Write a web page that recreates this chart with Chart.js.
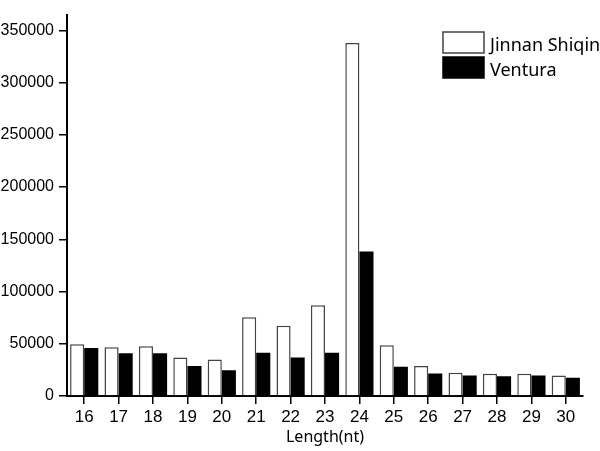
<!DOCTYPE html>
<html>
<head>
<meta charset="utf-8">
<script src="https://cdn.jsdelivr.net/npm/chart.js@4/dist/chart.umd.min.js"></script>
<style>
  html, body { margin: 0; padding: 0; background: #fff; }
  #wrap { width: 600px; height: 451px; }
</style>
</head>
<body>
<div id="wrap"><canvas id="myChart" width="600" height="451"></canvas></div>
<script>
// lengths of the small RNAs (nt)
var lengths = ['16', '17', '18', '19', '20', '21', '22', '23', '24', '25', '26', '27', '28', '29', '30'];
var jinnanShiqin = [49500, 46600, 47500, 36800, 34900, 75400, 67200, 86800, 337900, 48500, 28800, 22200, 21200, 21200, 19700];
var ventura = [46000, 40900, 41000, 28800, 24700, 41500, 36800, 41500, 138200, 27900, 21600, 19700, 19000, 19700, 17400];
var yTicks = [0, 50000, 100000, 150000, 200000, 250000, 300000, 350000];

// legend drawn in the top right corner, like the original figure
const boxLegend = {
  id: 'boxLegend',
  afterDraw(chart) {
    const ctx = chart.ctx;
    const items = chart.data.datasets;
    ctx.save();
    items.forEach((ds, i) => {
      const y = 32 + i * 25;
      ctx.fillStyle = ds.backgroundColor;
      ctx.fillRect(443, y, 41, 21);
      ctx.lineWidth = 1.5;
      ctx.strokeStyle = ds.borderColor;
      ctx.strokeRect(443, y, 41, 21);
      ctx.fillStyle = '#000';
      ctx.font = '18px "Noto Sans"';
      ctx.textBaseline = 'alphabetic';
      ctx.textAlign = 'left';
      ctx.fillText(ds.label, 490, y + 19);
    });
    ctx.restore();
  }
};

const data = {
  labels: lengths,
  datasets: [
    {
      label: 'Jinnan Shiqin',
      data: jinnanShiqin,
      backgroundColor: '#ffffff',
      borderColor: '#444444',
      borderWidth: 1.5
    },
    {
      label: 'Ventura',
      data: ventura,
      backgroundColor: '#000000',
      borderColor: '#000000',
      borderWidth: 0
    }
  ]
};

const config = {
  type: 'bar',
  data: data,
  options: {
    responsive: false,
    animation: false,
    layout: { padding: { top: 12, right: 17, left: 0, bottom: 4 } },
    datasets: {
      bar: { categoryPercentage: 0.82, barPercentage: 1.0 }
    },
    scales: {
      x: {
        type: 'category',
        offset: true,
        afterFit: function(scale) { scale.height = 51; },
        grid: { display: true, drawOnChartArea: false, drawTicks: true, tickLength: 8, color: '#000', lineWidth: 1.5, offset: false },
        border: { display: true, color: '#000', width: 2 },
        ticks: { color: '#000', font: { family: '"Liberation Sans", Arial', size: 17 }, padding: 3, maxRotation: 0 },
        title: { display: true, text: 'Length(nt)', color: '#000', font: { family: '"Noto Sans"', size: 16 }, padding: 0 }
      },
      y: {
        min: 0,
        max: 365000,
        afterFit: function(scale) { scale.width = 67; },
        afterBuildTicks: function(scale) { scale.ticks = yTicks.map(v => ({ value: v })); },
        grid: { display: true, drawOnChartArea: false, drawTicks: true, tickLength: 8, color: '#000', lineWidth: 1.5 },
        border: { display: true, color: '#000', width: 2 },
        ticks: {
          color: '#000',
          font: { family: '"Liberation Sans", Arial', size: 16 },
          padding: 5,
          includeBounds: false,
          callback: function(value) { return String(value); }
        }
      }
    },
    plugins: {
      legend: { display: false },
      tooltip: { enabled: false }
    }
  },
  plugins: [boxLegend]
};

var ctx = document.getElementById('myChart').getContext('2d');
var myChart = new Chart(ctx, config);
</script>
</body>
</html>
